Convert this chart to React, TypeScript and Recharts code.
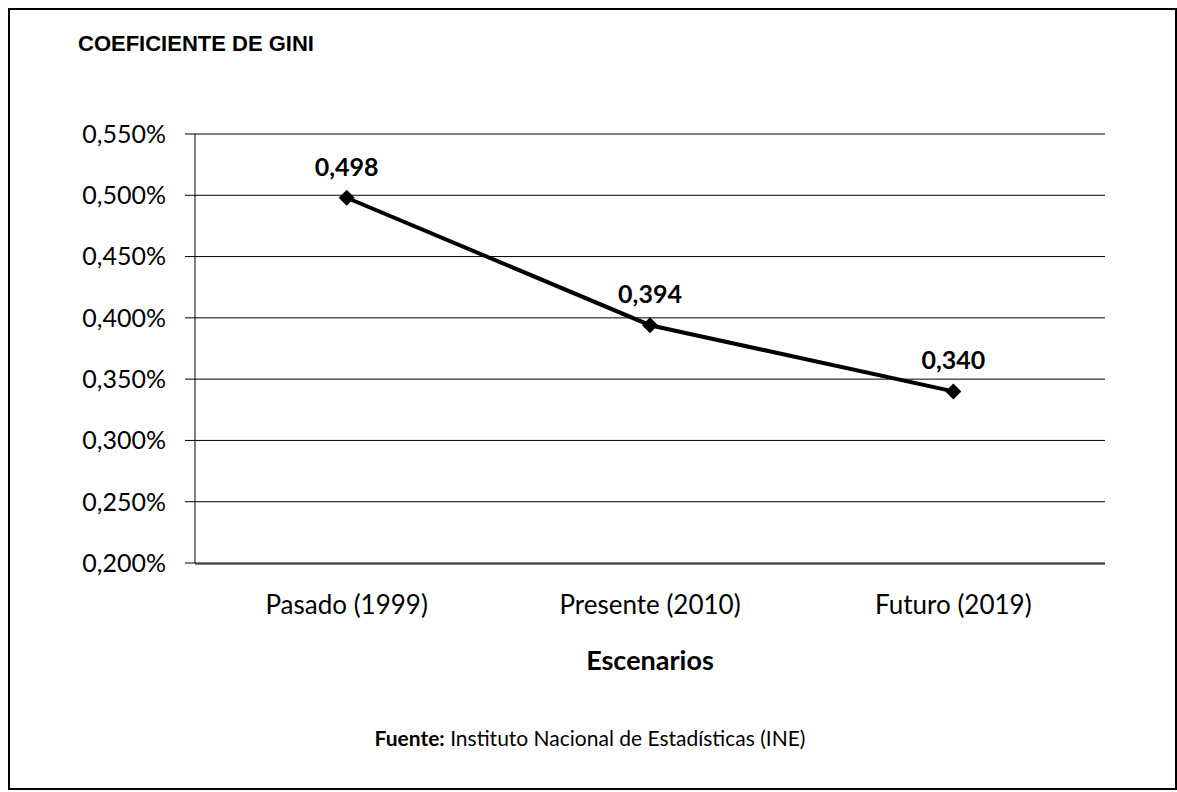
import { LineChart, Line, XAxis, YAxis, CartesianGrid, LabelList } from 'recharts';

const categories = ['Pasado (1999)', 'Presente (2010)', 'Futuro (2019)'];
const giniValues = [0.498, 0.394, 0.34];
const yTicks = [0.2, 0.25, 0.3, 0.35, 0.4, 0.45, 0.5, 0.55];
const bandEdges = [0, 1, 2, 3];

const data = categories.map((name, i) => ({ name, gini: giniValues[i] }));

const pct = (v: number) => v.toFixed(3).replace('.', ',') + '%';
const dec = (v: number) => Number(v).toFixed(3).replace('.', ',');

const font = 'Lato, "Open Sans", sans-serif';

function Diamond(props: any) {
  const { cx, cy, index } = props;
  const r = 8;
  return (
    <polygon
      key={`d-${index}`}
      points={`${cx},${cy - r} ${cx + r},${cy} ${cx},${cy + r} ${cx - r},${cy}`}
      fill="#000"
    />
  );
}

export default function App() {
  return (
    <div
      style={{
        position: 'absolute',
        left: 0,
        top: 0,
        width: 1177,
        height: 792,
        background: '#fff',
        fontFamily: font,
      }}
    >
      <div
        style={{
          position: 'absolute',
          left: 8,
          top: 8,
          width: 1165,
          height: 778,
          border: '2px solid #000',
        }}
      />
      <div
        style={{
          position: 'absolute',
          left: 78,
          top: 32,
          fontFamily: '"Liberation Sans", Arial, sans-serif',
          fontWeight: 700,
          fontSize: 22,
          lineHeight: '24px',
        }}
      >
        COEFICIENTE DE GINI
      </div>

      <LineChart
        width={1177}
        height={792}
        data={data}
        margin={{ top: 134, right: 72, bottom: 227, left: 0 }}
        style={{ position: 'absolute', left: 0, top: 0 }}
      >
        <CartesianGrid vertical={false} stroke="#000" strokeWidth={1} />
        {/* category labels, no line of their own */}
        <XAxis
          dataKey="name"
          scale="band"
          height={1}
          axisLine={false}
          tickLine={false}
          tickSize={0}
          tickMargin={33}
          tick={{ fill: '#000', fontSize: 26, fontFamily: font }}
          interval={0}
        />
        {/* axis line + ticks between categories, like Excel */}
        <XAxis
          xAxisId="edges"
          type="number"
          domain={[0, 3]}
          ticks={bandEdges}
          tick={false}
          tickSize={7}
          height={1}
          axisLine={{ stroke: '#000' }}
          tickLine={{ stroke: '#000' }}
        />
        <YAxis
          width={195}
          domain={[0.2, 0.55]}
          ticks={yTicks}
          tickFormatter={pct}
          tickSize={10}
          tickMargin={19}
          axisLine={{ stroke: '#000' }}
          tickLine={{ stroke: '#000' }}
          tick={{ fill: '#000', fontSize: 25, fontFamily: font }}
        />
        <Line
          type="linear"
          dataKey="gini"
          stroke="#000"
          strokeWidth={4}
          dot={Diamond}
          activeDot={false}
          isAnimationActive={false}
        >
          <LabelList
            dataKey="gini"
            position="top"
            offset={22}
            formatter={dec}
            fill="#000"
            fontSize={25}
            fontWeight={700}
            fontFamily={font}
          />
        </Line>
      </LineChart>

      <div
        style={{
          position: 'absolute',
          left: 195,
          width: 910,
          top: 645,
          textAlign: 'center',
          fontWeight: 700,
          fontSize: 27,
          lineHeight: '30px',
        }}
      >
        Escenarios
      </div>
      <div
        style={{
          position: 'absolute',
          left: 195,
          width: 790,
          top: 726,
          textAlign: 'center',
          fontSize: 21,
          lineHeight: '24px',
        }}
      >
        <b>Fuente:</b> Instituto Nacional de Estadísticas (INE)
      </div>
    </div>
  );
}
